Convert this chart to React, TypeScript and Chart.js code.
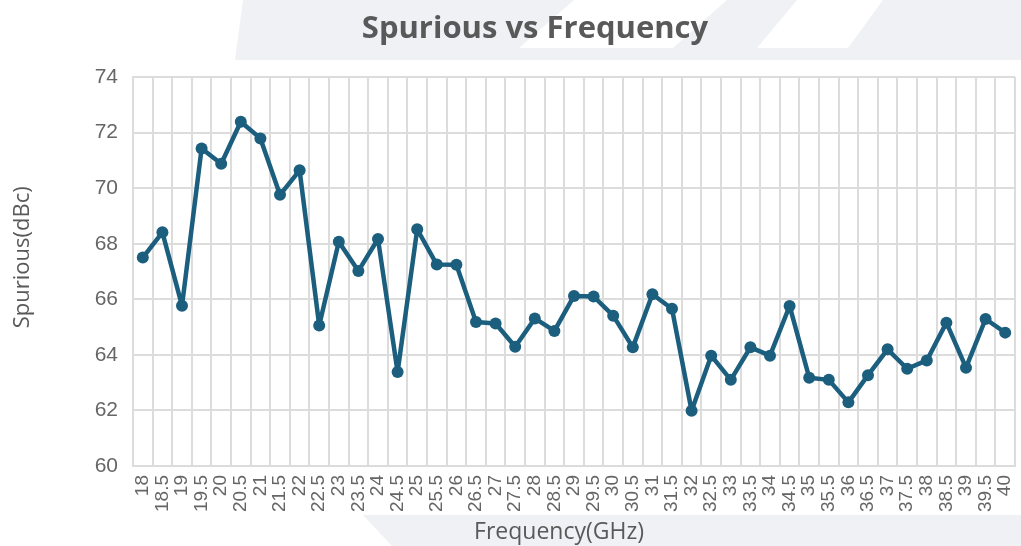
import React, { useEffect, useRef } from "react";
import { Chart, registerables } from "chart.js";

Chart.register(...registerables);

const frequencies: string[] = [
  "18", "18.5", "19", "19.5", "20", "20.5", "21", "21.5", "22", "22.5",
  "23", "23.5", "24", "24.5", "25", "25.5", "26", "26.5", "27", "27.5",
  "28", "28.5", "29", "29.5", "30", "30.5", "31", "31.5", "32", "32.5",
  "33", "33.5", "34", "34.5", "35", "35.5", "36", "36.5", "37", "37.5",
  "38", "38.5", "39", "39.5", "40",
];

const spurious: number[] = [
  67.5, 68.41, 65.77, 71.43, 70.88, 72.39, 71.79, 69.76, 70.64, 65.06,
  68.07, 67.02, 68.17, 63.38, 68.52, 67.25, 67.24, 65.18, 65.13, 64.29,
  65.31, 64.86, 66.12, 66.1, 65.41, 64.27, 66.18, 65.66, 61.99, 63.97,
  63.1, 64.27, 63.97, 65.76, 63.18, 63.1, 62.29, 63.27, 64.2, 63.5,
  63.8, 65.16, 63.54, 65.29, 64.8,
];

const yMin = 60;
const yMax = 74;
const yStep = 2;

const titleText = "Spurious vs Frequency";
const xTitle = "Frequency(GHz)";
const yTitle = "Spurious(dBc)";

const LINE_COLOR = "#1b5e7e";
const GRID_COLOR = "#dcdcdc";
const TEXT_COLOR = "#595959";
const BAND_COLOR = "#eff1f5";

const backgroundPlugin = {
  id: "bgDecor",
  beforeDraw(chart: any) {
    const ctx = chart.ctx as CanvasRenderingContext2D;
    const w = chart.width;
    const h = chart.height;
    ctx.save();
    ctx.fillStyle = "#ffffff";
    ctx.fillRect(0, 0, w, h);
    const poly = (pts: number[][], color: string) => {
      ctx.beginPath();
      ctx.moveTo(pts[0][0], pts[0][1]);
      for (let i = 1; i < pts.length; i++) ctx.lineTo(pts[i][0], pts[i][1]);
      ctx.closePath();
      ctx.fillStyle = color;
      ctx.fill();
    };
    // top band
    poly([[243, 0], [w, 0], [w, 60], [235, 60]], BAND_COLOR);
    poly([[519, 48], [574, 0], [727, 0], [673, 48]], "#ffffff");
    poly([[757, 48], [797, 0], [883, 0], [848, 48]], "#ffffff");
    // bottom band
    poly([[363, 515], [w, 515], [w, h], [392, h]], BAND_COLOR);
    // title
    ctx.fillStyle = TEXT_COLOR;
    ctx.font = 'bold 31px "Open Sans", sans-serif';
    ctx.textAlign = "center";
    ctx.textBaseline = "alphabetic";
    ctx.fillText(titleText, 535, 38);
    ctx.restore();
  },
};

export default function App() {
  const canvasRef = useRef<HTMLCanvasElement | null>(null);

  useEffect(() => {
    document.body.style.margin = "0";
    const canvas = canvasRef.current;
    if (!canvas) return;
    const chart = new Chart(canvas, {
      type: "line",
      data: {
        labels: frequencies,
        datasets: [
          {
            label: yTitle,
            data: spurious,
            borderColor: LINE_COLOR,
            backgroundColor: LINE_COLOR,
            borderWidth: 4.5,
            borderJoinStyle: "round",
            borderCapStyle: "round",
            pointRadius: 6,
            pointBorderWidth: 0,
            pointBackgroundColor: LINE_COLOR,
            tension: 0,
            fill: false,
          },
        ],
      },
      plugins: [backgroundPlugin],
      options: {
        responsive: false,
        animation: false,
        layout: { padding: { top: 77, right: 4, bottom: 0, left: 0 } },
        plugins: {
          legend: { display: false },
          title: { display: false },
          tooltip: { enabled: false },
        },
        scales: {
          x: {
            type: "category",
            offset: true,
            grid: {
              offset: true,
              color: GRID_COLOR,
              lineWidth: 2,
              drawTicks: false,
            },
            border: { display: true, color: GRID_COLOR, width: 2 },
            ticks: {
              autoSkip: false,
              maxRotation: 90,
              minRotation: 90,
              padding: 9,
              color: "#666666",
              font: { family: '"Liberation Sans Narrow", "Liberation Sans", sans-serif', size: 19 },
            },
            title: {
              display: true,
              text: xTitle + "     ",
              color: TEXT_COLOR,
              font: { family: '"Open Sans", sans-serif', size: 23 },
              padding: { top: 0, bottom: 0 },
            },
            afterFit(scale: any) {
              scale.height = 80;
              scale.paddingLeft = 0;
              scale.paddingRight = 0;
            },
          },
          y: {
            min: yMin,
            max: yMax,
            grid: { color: GRID_COLOR, lineWidth: 2, drawTicks: false },
            border: { display: true, color: GRID_COLOR, width: 2 },
            ticks: {
              stepSize: yStep,
              padding: 15,
              color: "#666666",
              font: { family: '"Liberation Sans", sans-serif', size: 21 },
            },
            title: {
              display: true,
              text: "     " + yTitle,
              color: TEXT_COLOR,
              font: { family: '"Open Sans", sans-serif', size: 22 },
              padding: { top: 10, bottom: 0 },
            },
            afterFit(scale: any) {
              scale.width = 133;
            },
          },
        },
      },
    });
    return () => chart.destroy();
  }, []);

  return (
    <div style={{ width: 1021, height: 546 }}>
      <canvas ref={canvasRef} width={1021} height={546} />
    </div>
  );
}
